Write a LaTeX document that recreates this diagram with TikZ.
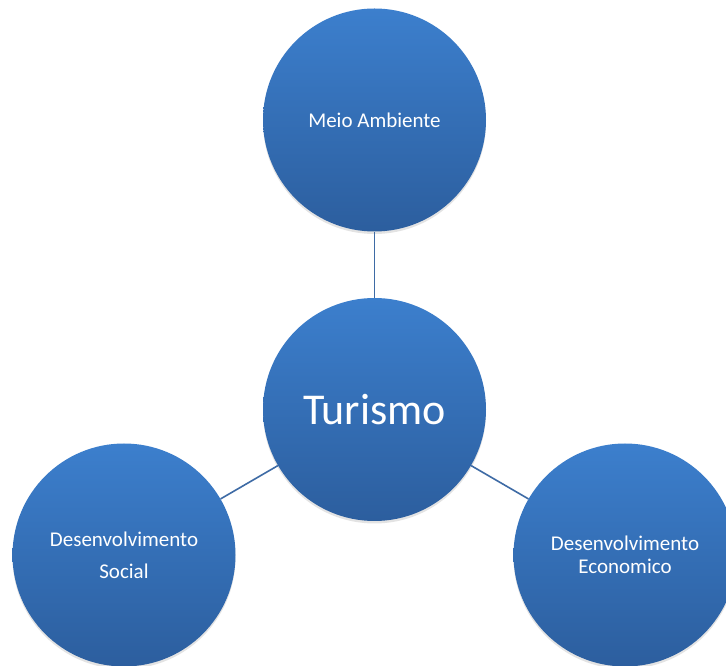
\documentclass[tikz,border=0pt]{standalone}
\usepackage{fontspec}
\setmainfont{Carlito}
\usetikzlibrary{shadows}
\definecolor{topblue}{HTML}{3C7FCD}
\definecolor{botblue}{HTML}{2C5E9E}
\definecolor{linkblue}{HTML}{3E6BA5}
\tikzset{
  bubble/.style={circle, minimum size=223pt, inner sep=0pt, draw=none,
    top color=topblue, bottom color=botblue, text=white, align=center,
    font=\fontsize{21}{25}\selectfont,
    drop shadow={opacity=0.22, shadow xshift=0pt, shadow yshift=-2.5pt}},
  link/.style={draw=linkblue, line width=1.6pt}
}
\begin{document}
\begin{tikzpicture}[x=1pt,y=1pt]
\useasboundingbox (0,0) rectangle (726,666);
\clip (0,0) rectangle (726,666);
\fill[white] (0,0) rectangle (726,666);
\node[bubble] (meio) at (374.5,546) {Meio Ambiente};
\node[bubble, font=\fontsize{44}{50}\selectfont] (tur) at (374.5,256.5) {Turismo};
\node[bubble] (soc) at (124,111) {Desenvolvimento\\[7pt]Social};
\node[bubble, font=\fontsize{21}{23}\selectfont] (eco) at (625,111) {Desenvolvimento\\Economico};
\draw[link] (meio) -- (tur);
\draw[link] (tur) -- (soc);
\draw[link] (tur) -- (eco);
\end{tikzpicture}
\end{document}
